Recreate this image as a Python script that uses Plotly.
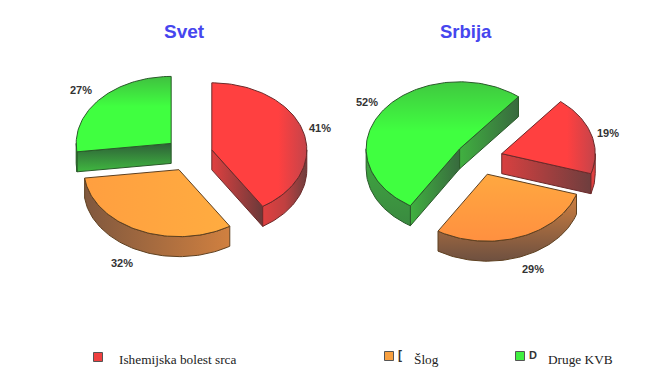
import math
import plotly.graph_objects as go

# ---- data ----
categories = ["Ishemijska bolest srca", "Šlog", "Druge KVB"]
svet_values = [41, 32, 27]
srbija_values = [19, 29, 52]
panel_titles = ["Svet", "Srbija"]

# ---- layout of the drawing (pixels of the 652x382 page) ----
W, H = 652, 382
PAGE_MARGIN = 8
RY, DEPTH, PULL = 67, 20, 0.25
panels = [
    dict(title="Svet", values=svet_values, cx=189, cy=154.5, start=0, tx=184, rx=95, fs=19),
    dict(title="Srbija", values=srbija_values, cx=479, cy=158.5, start=39, tx=465.5, rx=93.5, fs=18.5),
]
line_colors = ["#6b2a2a", "#5e4020", "#2a5a2a"]

# (orientation, colour stops) per panel / slice / part
H_, V_ = "horizontal", "vertical"
styles = {
    ("Svet", 0, "top"): (H_, [[0, "#ff4040"], [0.7, "#ff4040"], [1, "#c4444a"]]),
    ("Svet", 1, "top"): (H_, [[0, "#ff9f40"], [1, "#ffac40"]]),
    ("Svet", 2, "top"): (V_, [[0, "#40c040"], [0.4, "#40ff40"], [1, "#40ff40"]]),
    ("Svet", 0, "rim"): (H_, [[0, "#e04040"], [0.5, "#c04040"], [1, "#6e3e3e"]]),
    ("Svet", 1, "rim"): (H_, [[0, "#80583e"], [1, "#d08040"]]),
    ("Svet", 2, "rim"): (V_, [[0, "#40b040"], [1, "#40b040"]]),
    ("Svet", 0, "face"): (H_, [[0, "#e04040"], [1, "#6a3a3a"]]),
    ("Svet", 1, "face"): (H_, [[0, "#80583e"], [1, "#d08040"]]),
    ("Svet", 2, "face"): (V_, [[0, "#2e6038"], [1, "#40b840"]]),
    ("Srbija", 0, "top"): (H_, [[0, "#ff4040"], [0.7, "#ff4040"], [1, "#c4444a"]]),
    ("Srbija", 1, "top"): (V_, [[0, "#ffa840"], [1, "#ff9040"]]),
    ("Srbija", 2, "top"): (V_, [[0, "#40c840"], [0.4, "#40ff40"], [1, "#40ff40"]]),
    ("Srbija", 0, "rim"): (H_, [[0, "#e04040"], [1, "#e04040"]]),
    ("Srbija", 1, "rim"): (V_, [[0, "#d08040"], [1, "#6e5040"]]),
    ("Srbija", 2, "rim"): (V_, [[0, "#40a840"], [1, "#3a8a40"]]),
    ("Srbija", 0, "face"): (H_, [[0, "#d84040"], [1, "#6e3e3e"]]),
    ("Srbija", 1, "face"): (V_, [[0, "#d08040"], [1, "#6e5040"]]),
    ("Srbija", 2, "face"): (H_, [[0, "#40b040"], [1, "#386a3e"]]),
}

# label anchors (pixels)
label_pos = {
    ("Svet", 0): (320, 128), ("Svet", 1): (122, 263), ("Svet", 2): (81, 90),
    ("Srbija", 0): (608, 133), ("Srbija", 1): (533, 269), ("Srbija", 2): (367, 102),
}
legend_swatch_x = [98, 389, 520]
legend_text_x = [117, 412, 546]
legend_y = 357


def pt(cx, cy, a, rx, dz=0):
    r = math.radians(a)
    return cx + rx * math.sin(r), cy - RY * math.cos(r) + dz


def arc(cx, cy, a1, a2, rx, dz=0):
    n = max(2, int(abs(a2 - a1) / 1.5) + 1)
    return [pt(cx, cy, a1 + (a2 - a1) * i / (n - 1), rx, dz) for i in range(n)]


fig = go.Figure()


def poly(points, style, color):
    xs = [p[0] for p in points]
    ys = [p[1] for p in points]
    orient, stops = style
    lo, hi = (min(xs), max(xs)) if orient == H_ else (min(ys), max(ys))
    fig.add_trace(go.Scatter(
        x=xs + xs[:1], y=ys + ys[:1], mode="lines", fill="toself",
        line=dict(color=color, width=1),
        fillgradient=dict(type=orient, colorscale=stops, start=lo, stop=hi),
        hoverinfo="skip", showlegend=False,
    ))


for panel in panels:
    name = panel["title"]
    angle = panel["start"]
    rx = panel["rx"]
    for i, v in enumerate(panel["values"]):
        a1, a2 = angle, angle + v * 3.6
        angle = a2
        mid = math.radians((a1 + a2) / 2)
        cx = panel["cx"] + PULL * 95 * math.sin(mid)
        cy = panel["cy"] - PULL * RY * math.cos(mid)
        col = line_colors[i]
        # cut faces that look towards the viewer
        for edge, visible in ((a1, math.sin(math.radians(a1)) < -1e-6),
                              (a2, math.sin(math.radians(a2)) > 1e-6)):
            if visible:
                p = pt(cx, cy, edge, rx)
                poly([(cx, cy), p, (p[0], p[1] + DEPTH), (cx, cy + DEPTH)],
                     styles[(name, i, "face")], col)
        # front part of the rim
        lo = a1
        while lo < a2:
            k = math.floor((lo - 90) / 360)
            f_lo, f_hi = 90 + 360 * k, 270 + 360 * k
            if lo >= f_hi:
                f_lo += 360
                f_hi += 360
            s, e = max(lo, f_lo), min(a2, f_hi)
            if e > s:
                top = arc(cx, cy, s, e, rx)
                bot = arc(cx, cy, e, s, rx, DEPTH)
                poly(top + bot, styles[(name, i, "rim")], col)
            lo = f_hi
        # top surface
        poly([(cx, cy)] + arc(cx, cy, a1, a2, rx), styles[(name, i, "top")], col)

# legend swatches as markers
swatch_colors = ["#f04040", "#f8a040", "#40f040"]
fig.add_trace(go.Scatter(
    x=legend_swatch_x, y=[legend_y, legend_y - 1, legend_y - 1], mode="markers",
    marker=dict(symbol="square", size=9, color=swatch_colors,
                line=dict(color="#555555", width=1)),
    hoverinfo="skip", showlegend=False,
))

anns = []
for panel in panels:
    anns.append(dict(x=panel["tx"], y=31, text=f"<b>{panel['title']}</b>",
                     font=dict(family="Liberation Sans", size=panel["fs"], color="#4646ee")))
    for i, v in enumerate(panel["values"]):
        x, y = label_pos[(panel["title"], i)]
        anns.append(dict(x=x, y=y, text=f"<b>{v}%</b>",
                         font=dict(family="Liberation Sans", size=11, color="#333333")))
for x, t in zip(legend_text_x, categories):
    anns.append(dict(x=x, y=359, text=t, xanchor="left",
                     font=dict(family="Liberation Serif", size=13.3, color="#222222")))
anns.append(dict(x=400, y=355, text="<b>[</b>",
                 font=dict(family="Liberation Sans", size=12, color="#333333")))
anns.append(dict(x=533, y=355, text="<b>D</b>",
                 font=dict(family="Liberation Sans", size=11, color="#333333")))
for a in anns:
    a.update(xref="x", yref="y", showarrow=False)

fig.update_layout(
    width=W - PAGE_MARGIN, height=H - PAGE_MARGIN, margin=dict(l=0, r=0, t=0, b=0),
    paper_bgcolor="white", plot_bgcolor="white", annotations=anns,
    xaxis=dict(range=[PAGE_MARGIN, W], visible=False, fixedrange=True),
    yaxis=dict(range=[H, PAGE_MARGIN], visible=False, fixedrange=True),
)
fig.write_html("out.html", config=dict(displayModeBar=False))
